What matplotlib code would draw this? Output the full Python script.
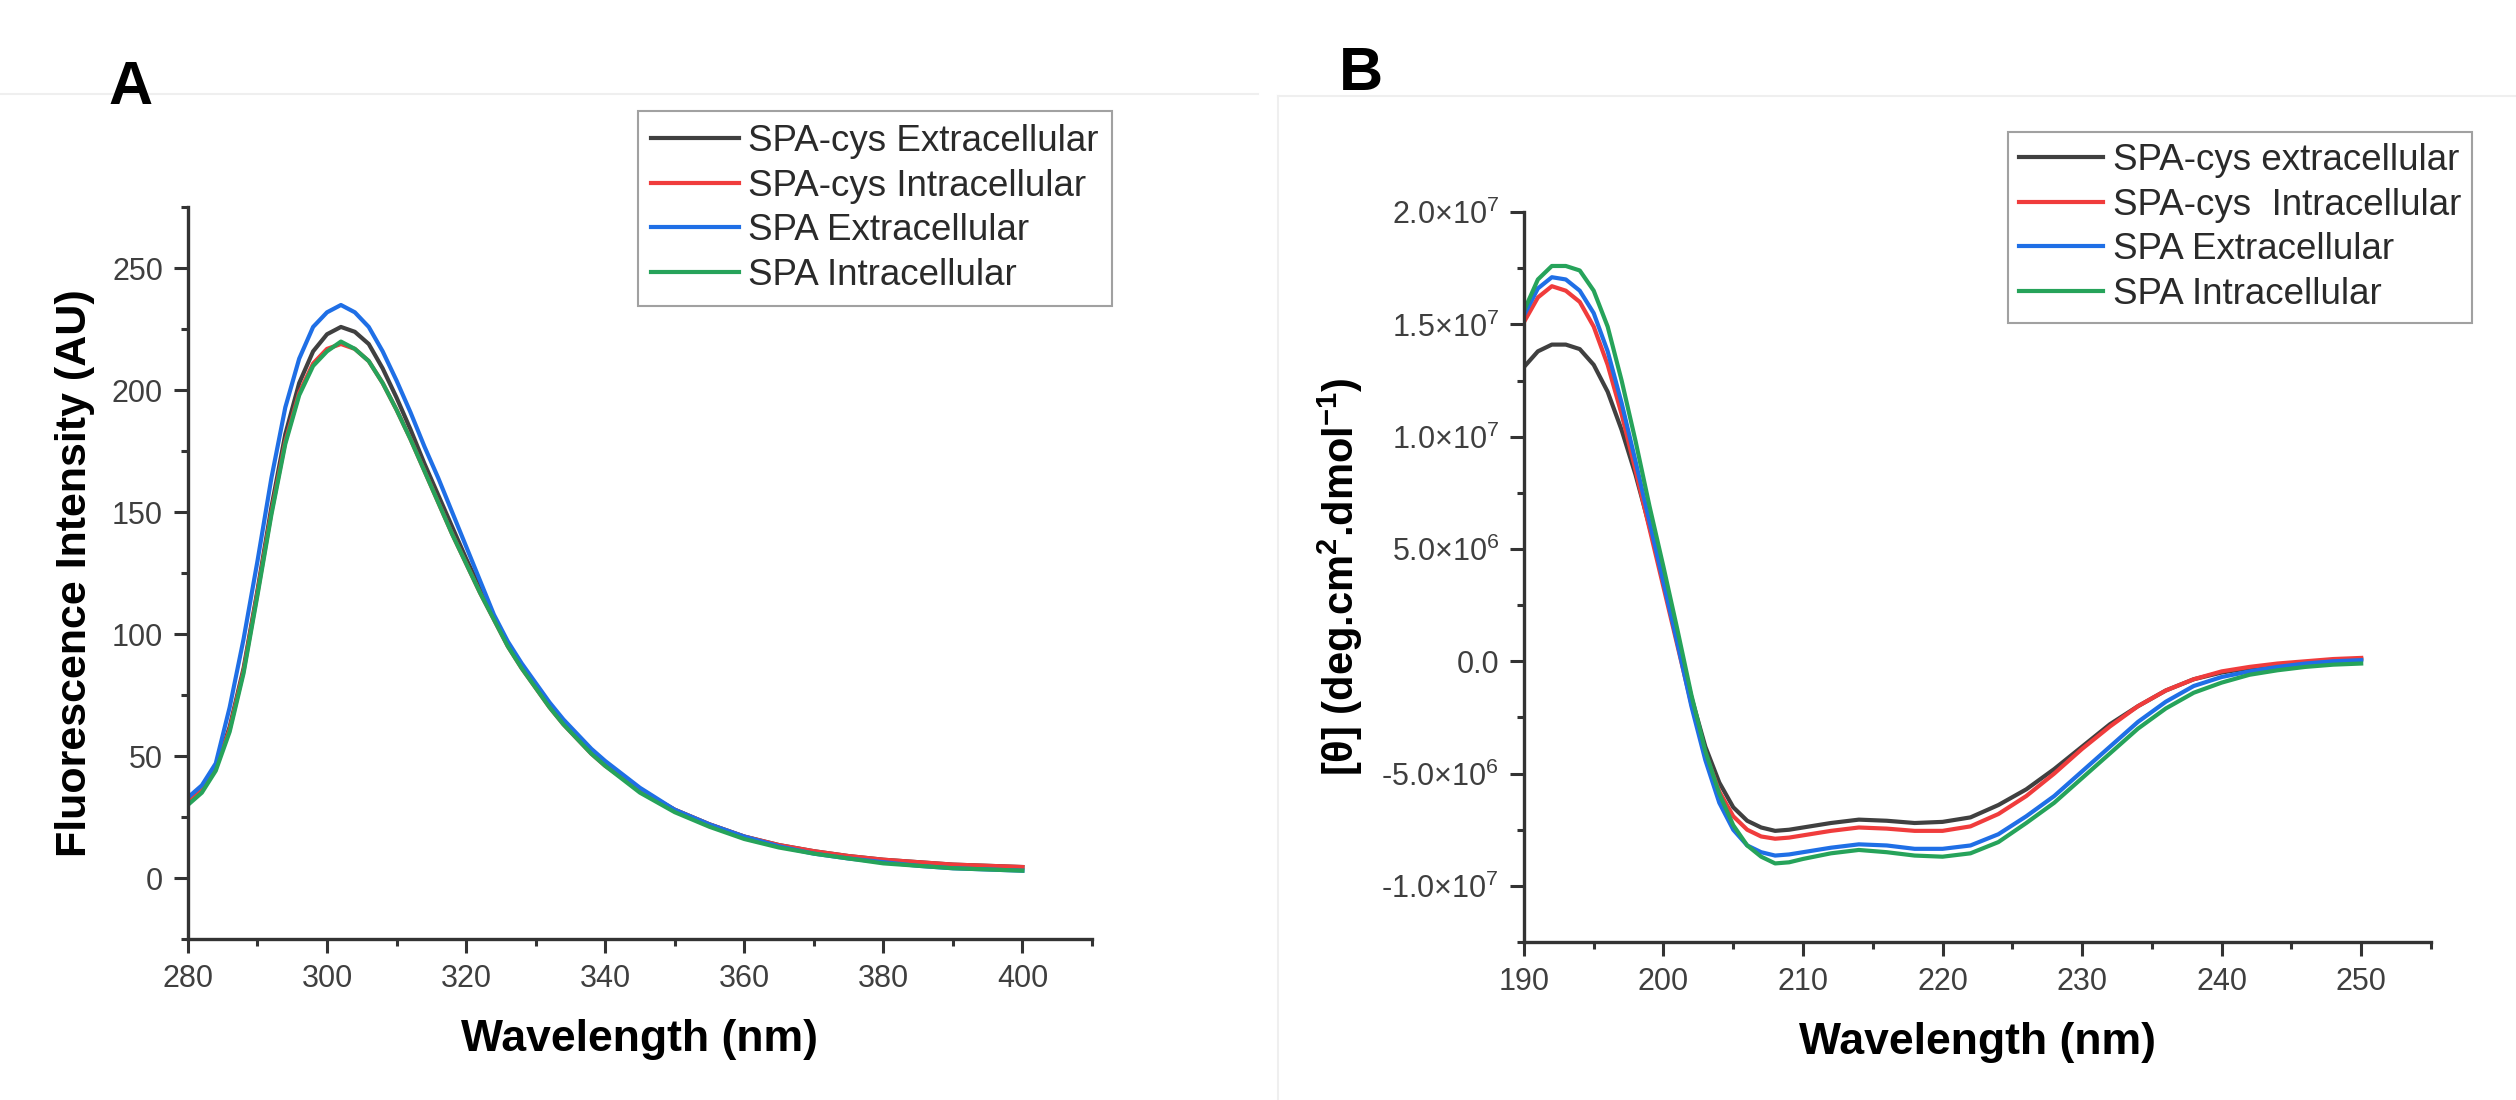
import matplotlib
matplotlib.use("Agg")
import matplotlib.pyplot as plt
from matplotlib.ticker import MultipleLocator, FixedLocator, FixedFormatter
from matplotlib.lines import Line2D

plt.rcParams['font.family'] = ['Liberation Sans', 'DejaVu Sans']
plt.rcParams['mathtext.fontset'] = 'custom'
plt.rcParams['mathtext.rm'] = 'Liberation Sans'
plt.rcParams['mathtext.it'] = 'Liberation Sans:italic'
plt.rcParams['mathtext.bf'] = 'Liberation Sans:bold'

# ---------------- Panel A data (fluorescence) ----------------
wl_A = [280, 282, 284, 286, 288, 290, 292, 294, 296, 298,
        300, 302, 304, 306, 308, 310, 312, 314, 316, 318,
        320, 322, 324, 326, 328, 330, 332, 334, 336, 338,
        340, 345, 350, 355, 360, 365, 370, 375, 380, 385,
        390, 395, 400]
cys_ext_A = [31, 36, 45, 62, 86, 118, 152, 182, 203, 216,
             223, 226, 224, 219, 209, 197, 184, 170, 157, 144,
             131, 119, 107, 96, 87, 79, 71, 64, 58, 52,
             47, 36, 28, 22, 17, 13.5, 11, 9, 7.5, 6.5,
             5.5, 5, 4.5]
cys_int_A = [31, 36, 45, 61, 85, 117, 150, 179, 199, 211,
             217, 219, 217, 212, 203, 192, 180, 167, 154, 141,
             129, 117, 106, 95, 86, 78, 70, 63, 57, 51,
             46, 36, 28, 22, 17, 13.5, 11, 9, 7.5, 6.5,
             5.5, 5, 4.5]
spa_ext_A = [33, 38, 47, 70, 98, 130, 164, 193, 213, 226,
             232, 235, 232, 226, 216, 204, 191, 177, 164, 150,
             136, 122, 108, 97, 88, 80, 72, 65, 59, 53,
             48, 37, 28, 22, 17, 13, 10, 8, 6.5, 5,
             4, 3.5, 3]
spa_int_A = [30, 35, 44, 60, 84, 116, 149, 178, 198, 210,
             216, 220, 217, 212, 203, 192, 180, 167, 154, 141,
             129, 117, 106, 95, 86, 78, 70, 63, 57, 51,
             46, 35, 27, 21, 16, 12.5, 10, 8, 6, 5,
             4, 3.5, 3]
labels_A = ["SPA-cys Extracellular", "SPA-cys Intracellular",
            "SPA Extracellular", "SPA Intracellular"]

# ---------------- Panel B data (CD, units of 1e6) ----------------
wl_B = [190, 191, 192, 193, 194, 195, 196, 197, 198, 199,
        200, 201, 202, 203, 204, 205, 206, 207, 208, 209,
        210, 212, 214, 216, 218, 220, 222, 224, 226, 228,
        230, 232, 234, 236, 238, 240, 242, 244, 246, 248, 250]
cys_ext_B = [13.1, 13.8, 14.1, 14.1, 13.9, 13.2, 12.0, 10.3, 8.3, 6.0,
             3.6, 1.0, -1.6, -3.8, -5.4, -6.5, -7.1, -7.4, -7.55, -7.5,
             -7.4, -7.2, -7.05, -7.1, -7.2, -7.15, -6.95, -6.4, -5.7, -4.8,
             -3.8, -2.8, -2.0, -1.3, -0.8, -0.5, -0.3, -0.15, -0.05, 0.05, 0.1]
cys_int_B = [15.1, 16.2, 16.7, 16.5, 16.0, 14.9, 13.2, 11.0, 8.5, 5.9,
             3.3, 0.7, -1.9, -4.1, -5.8, -6.9, -7.5, -7.8, -7.9, -7.85,
             -7.75, -7.55, -7.4, -7.45, -7.55, -7.55, -7.35, -6.8, -6.0, -5.0,
             -3.9, -2.9, -2.0, -1.3, -0.8, -0.45, -0.25, -0.1, 0.0, 0.1, 0.15]
spa_ext_B = [15.4, 16.6, 17.1, 17.0, 16.5, 15.5, 13.8, 11.5, 8.9, 6.2,
             3.5, 0.8, -2.0, -4.4, -6.3, -7.5, -8.2, -8.5, -8.65, -8.6,
             -8.5, -8.3, -8.15, -8.2, -8.35, -8.35, -8.2, -7.7, -6.9, -6.0,
             -4.9, -3.8, -2.7, -1.8, -1.1, -0.7, -0.45, -0.25, -0.1, 0.0, 0.05]
spa_int_B = [15.6, 17.0, 17.6, 17.6, 17.4, 16.5, 14.9, 12.5, 9.8, 6.9,
             4.2, 1.4, -1.5, -4.0, -5.9, -7.3, -8.2, -8.7, -9.0, -8.95,
             -8.8, -8.55, -8.4, -8.5, -8.65, -8.7, -8.55, -8.05, -7.2, -6.3,
             -5.2, -4.1, -3.0, -2.1, -1.4, -0.95, -0.6, -0.4, -0.25, -0.15, -0.1]
labels_B = ["SPA-cys extracellular", "SPA-cys  Intracellular",
            "SPA Extracellular", "SPA Intracellular"]
yticks_B = [-1.0e7, -5.0e6, 0.0, 5.0e6, 1.0e7, 1.5e7, 2.0e7]
yticklabels_B = ['-1.0\u00d710$^{7}$', '-5.0\u00d710$^{6}$', '0.0',
                 '5.0\u00d710$^{6}$', '1.0\u00d710$^{7}$', '1.5\u00d710$^{7}$',
                 '2.0\u00d710$^{7}$']

colors = ['#404040', '#f03c3c', '#1f6fe6', '#26a35a']
AX_COLOR = '#333333'

fig = plt.figure(figsize=(25.16, 11.0), dpi=100)

# faint screenshot borders
fig.add_artist(Line2D([0.0, 0.50], [0.915, 0.915], transform=fig.transFigure,
                      color='#efefef', lw=1.5))
fig.add_artist(Line2D([0.508, 0.508], [0.0, 0.913], transform=fig.transFigure,
                      color='#efefef', lw=1.5))
fig.add_artist(Line2D([0.508, 1.0], [0.913, 0.913], transform=fig.transFigure,
                      color='#efefef', lw=1.5))


def style_axes(ax):
    for s in ['top', 'right']:
        ax.spines[s].set_visible(False)
    for s in ['left', 'bottom']:
        ax.spines[s].set_color(AX_COLOR)
        ax.spines[s].set_linewidth(2.4)
    ax.tick_params(which='both', direction='out', color=AX_COLOR, width=2.2,
                   labelcolor='#3f3f3f', labelsize=22)
    ax.tick_params(which='major', length=10, pad=8)
    ax.tick_params(which='minor', length=5)


# ---------------- Panel A ----------------
axA = fig.add_axes([0.0747, 0.1464, 0.3593, 0.665])
for ys, c, lab in zip([cys_ext_A, cys_int_A, spa_ext_A, spa_int_A], colors, labels_A):
    axA.plot(wl_A, ys, color=c, lw=3.0, label=lab)
axA.set_xlim(280, 410)
axA.set_ylim(-25, 275)
axA.xaxis.set_major_locator(FixedLocator([280, 300, 320, 340, 360, 380, 400]))
axA.xaxis.set_minor_locator(MultipleLocator(10))
axA.yaxis.set_major_locator(FixedLocator([0, 50, 100, 150, 200, 250]))
axA.yaxis.set_minor_locator(MultipleLocator(25))
style_axes(axA)
axA.set_xlabel('Wavelength (nm)', fontsize=32, fontweight='bold', labelpad=18)
axA.set_ylabel('Fluorescence Intensity (AU)', fontsize=31, fontweight='bold', labelpad=12)
legA = axA.legend(loc='upper left', bbox_to_anchor=(0.2536, 0.899),
                  bbox_transform=fig.transFigure, fontsize=26.5, frameon=True,
                  fancybox=False, edgecolor='#8a8a8a', handlelength=2.4,
                  handletextpad=0.25, labelspacing=0.26, borderpad=0.35,
                  borderaxespad=0.0)
legA.get_frame().set_linewidth(1.5)
for t in legA.get_texts():
    t.set_color('#2a2a2a')
fig.text(0.043, 0.905, 'A', fontsize=44, fontweight='bold', ha='left', va='baseline')

# ---------------- Panel B ----------------
axB = fig.add_axes([0.6057, 0.1436, 0.3605, 0.6636])
for ys, c, lab in zip([cys_ext_B, cys_int_B, spa_ext_B, spa_int_B], colors, labels_B):
    axB.plot(wl_B, [v * 1e6 for v in ys], color=c, lw=3.0, label=lab)
axB.set_xlim(190, 255)
axB.set_ylim(-1.25e7, 2.0e7)
axB.xaxis.set_major_locator(FixedLocator([190, 200, 210, 220, 230, 240, 250]))
axB.xaxis.set_minor_locator(MultipleLocator(5))
axB.yaxis.set_major_locator(FixedLocator(yticks_B))
axB.yaxis.set_major_formatter(FixedFormatter(yticklabels_B))
axB.yaxis.set_minor_locator(MultipleLocator(2.5e6))
style_axes(axB)
axB.set_xlabel('Wavelength (nm)', fontsize=32, fontweight='bold', labelpad=18)
axB.set_ylabel('[\u03b8] (deg.cm$^{\\mathbf{2}}$.dmol$^{\\mathbf{-1}}$)',
               fontsize=30, fontweight='bold', labelpad=12)
legB = axB.legend(loc='upper left', bbox_to_anchor=(0.798, 0.88),
                  bbox_transform=fig.transFigure, fontsize=26.5, frameon=True,
                  fancybox=False, edgecolor='#8a8a8a', handlelength=2.3,
                  handletextpad=0.25, labelspacing=0.26, borderpad=0.3,
                  borderaxespad=0.0)
legB.get_frame().set_linewidth(1.5)
for t in legB.get_texts():
    t.set_color('#2a2a2a')
fig.text(0.532, 0.918, 'B', fontsize=44, fontweight='bold', ha='left', va='baseline')

fig.savefig('out.png', dpi=100, facecolor='white')
